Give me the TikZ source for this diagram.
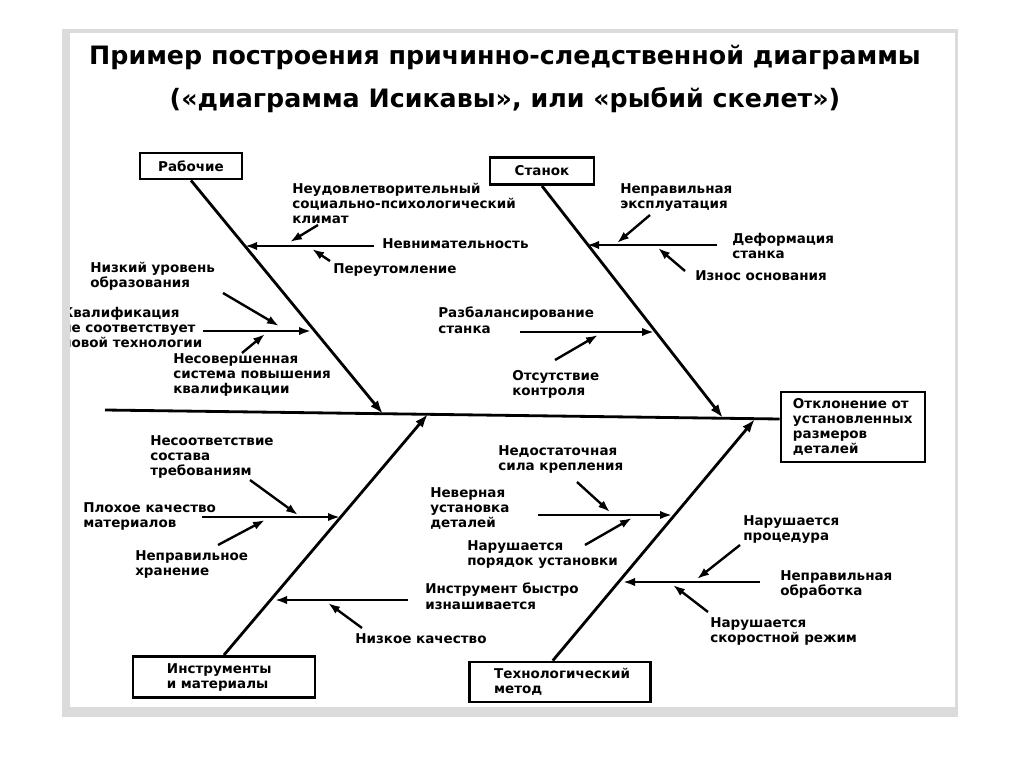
\documentclass[tikz,border=0pt]{standalone}
\usepackage{fontspec}
\setmainfont{DejaVu Sans}
\usetikzlibrary{arrows.meta}

\begin{document}
\begin{tikzpicture}[
  x=0.025cm, y=-0.025cm,
  font=\fontsize{9.6}{10.7}\selectfont\bfseries,
  cause/.style={rectangle, draw, line width=2pt, inner ysep=3pt,
                align=left},
  lbl/.style={anchor=north west, inner sep=0pt, align=left},
  spine/.style={line width=2pt},
  bone/.style={-{Latex[length=3.4mm, width=2.4mm]}, line width=2pt},
  twig/.style={-{Latex[length=3mm, width=2.1mm]}, line width=1.7pt}
]
\useasboundingbox (0,0) rectangle (1024,767);

% ---------------- page ----------------
\fill[black!14] (62,29) rectangle (958,717);
\fill[white] (70,33) rectangle (955,707);

\node[font=\fontsize{18}{30}\selectfont\bfseries, align=center] (title) at (505,79)
  {Пример построения причинно-следственной диаграммы\\
   («диаграмма Исикавы», или «рыбий скелет»)};

% ---------------- head and spine ----------------
\node[cause, inner xsep=0.3cm, text width=3cm, minimum height=1.75cm]
  (effect) at (853,427) {Отклонение от\\установленных\\размеров\\деталей};
\coordinate (tail) at (105,410);
\draw[spine] (tail) -- ([yshift=0.2cm]effect.west);

% ---------------- main causes ----------------
\node[cause, minimum width=2.55cm, minimum height=0.65cm] (rab) at (191,166) {Рабочие};
\node[cause, minimum width=2.6cm, minimum height=0.68cm] (stan) at (542,171) {Станок};
\node[cause, inner xsep=0.85cm, text width=2.85cm, minimum height=1.03cm]
  (instr) at (224,677) {Инструменты\\и материалы};
\node[cause, inner xsep=0.62cm, text width=3.29cm, minimum height=1cm]
  (tech) at (560,682) {Технологический\\метод};

\coordinate (jrab) at (383,414);
\coordinate (jstan) at (723,418);
\coordinate (jinstr) at (428,414);
\coordinate (jtech) at (755,419);

\draw[bone] (rab.south) -- (jrab);
\draw[bone] (stan.south) -- (jstan);
\draw[bone] (instr.north) -- (jinstr);
\draw[bone] ([xshift=-0.18cm]tech.north) -- (jtech);

% ---------------- Рабочие ----------------
\node[lbl] (klimat) at (292,183) {Неудовлетворительный\\социально-психологический\\климат};
\node[lbl] (nevn) at (382,238) {Невнимательность};
\node[lbl] (pereut) at (333,263) {Переутомление};
\node[lbl] (obraz) at (90,262) {Низкий уровень\\образования};
\begin{scope}
  \clip (70,33) rectangle (955,707);
  \node[lbl] (kvalif) at (62,307) {Квалификация\\не соответствует\\новой технологии};
\end{scope}
\node[lbl] (sist) at (173,353) {Несовершенная\\система повышения\\квалификации};

\coordinate (r1a) at (374,246);  \coordinate (r1b) at (245,246);
\coordinate (r2a) at (318,225);  \coordinate (r2b) at (290,242);
\coordinate (r3a) at (330,261);  \coordinate (r3b) at (312,249);
\coordinate (r4a) at (203,331);  \coordinate (r4b) at (311,331);
\coordinate (r5a) at (223,293);  \coordinate (r5b) at (279,326);
\coordinate (r6a) at (242,353);  \coordinate (r6b) at (265,334);

\draw[twig] (r1a) -- (r1b);
\draw[twig] (r2a) -- (r2b);
\draw[twig] (r3a) -- (r3b);
\draw[twig] (r4a) -- (r4b);
\draw[twig] (r5a) -- (r5b);
\draw[twig] (r6a) -- (r6b);

% ---------------- Станок ----------------
\node[lbl] (ekspl) at (620,183) {Неправильная\\эксплуатация};
\node[lbl] (deform) at (732,233) {Деформация\\станка};
\node[lbl] (iznos) at (695,270) {Износ основания};
\node[lbl] (razbal) at (438,307) {Разбалансирование\\станка};
\node[lbl] (kontr) at (512,370) {Отсутствие\\контроля};

\coordinate (s1a) at (717,245);  \coordinate (s1b) at (587,245);
\coordinate (s2a) at (650,215);  \coordinate (s2b) at (617,243);
\coordinate (s3a) at (685,271);  \coordinate (s3b) at (658,248);
\coordinate (s4a) at (520,332);  \coordinate (s4b) at (654,332);
\coordinate (s5a) at (555,360);  \coordinate (s5b) at (598,335);

\draw[twig] (s1a) -- (s1b);
\draw[twig] (s2a) -- (s2b);
\draw[twig] (s3a) -- (s3b);
\draw[twig] (s4a) -- (s4b);
\draw[twig] (s5a) -- (s5b);

% ---------------- Инструменты и материалы ----------------
\node[lbl] (sostav) at (150,435) {Несоответствие\\состава\\требованиям};
\node[lbl] (plohoe) at (83,502) {Плохое качество\\материалов};
\node[lbl] (hran) at (135,550) {Неправильное\\хранение};
\node[lbl] (bystro) at (425,583) {Инструмент быстро\\изнашивается};
\node[lbl] (nizkoe) at (355,633) {Низкое качество};

\coordinate (i1a) at (202,517);  \coordinate (i1b) at (340,517);
\coordinate (i2a) at (250,480);  \coordinate (i2b) at (298,515);
\coordinate (i3a) at (218,545);  \coordinate (i3b) at (265,520);
\coordinate (i4a) at (408,600);  \coordinate (i4b) at (275,600);
\coordinate (i5a) at (362,628);  \coordinate (i5b) at (328,603);

\draw[twig] (i1a) -- (i1b);
\draw[twig] (i2a) -- (i2b);
\draw[twig] (i3a) -- (i3b);
\draw[twig] (i4a) -- (i4b);
\draw[twig] (i5a) -- (i5b);

% ---------------- Технологический метод ----------------
\node[lbl] (sila) at (498,445) {Недостаточная\\сила крепления};
\node[lbl] (ustan) at (430,487) {Неверная\\установка\\деталей};
\node[lbl] (poryad) at (467,540) {Нарушается\\порядок установки};
\node[lbl] (proc) at (743,515) {Нарушается\\процедура};
\node[lbl] (obrab) at (780,570) {Неправильная\\обработка};
\node[lbl] (skor) at (710,617) {Нарушается\\скоростной режим};

\coordinate (t1a) at (538,515);  \coordinate (t1b) at (672,515);
\coordinate (t2a) at (577,482);  \coordinate (t2b) at (610,512);
\coordinate (t3a) at (585,545);  \coordinate (t3b) at (632,518);
\coordinate (t4a) at (760,582);  \coordinate (t4b) at (623,582);
\coordinate (t5a) at (740,545);  \coordinate (t5b) at (697,579);
\coordinate (t6a) at (708,612);  \coordinate (t6b) at (673,585);

\draw[twig] (t1a) -- (t1b);
\draw[twig] (t2a) -- (t2b);
\draw[twig] (t3a) -- (t3b);
\draw[twig] (t4a) -- (t4b);
\draw[twig] (t5a) -- (t5b);
\draw[twig] (t6a) -- (t6b);
\end{tikzpicture}
\end{document}
